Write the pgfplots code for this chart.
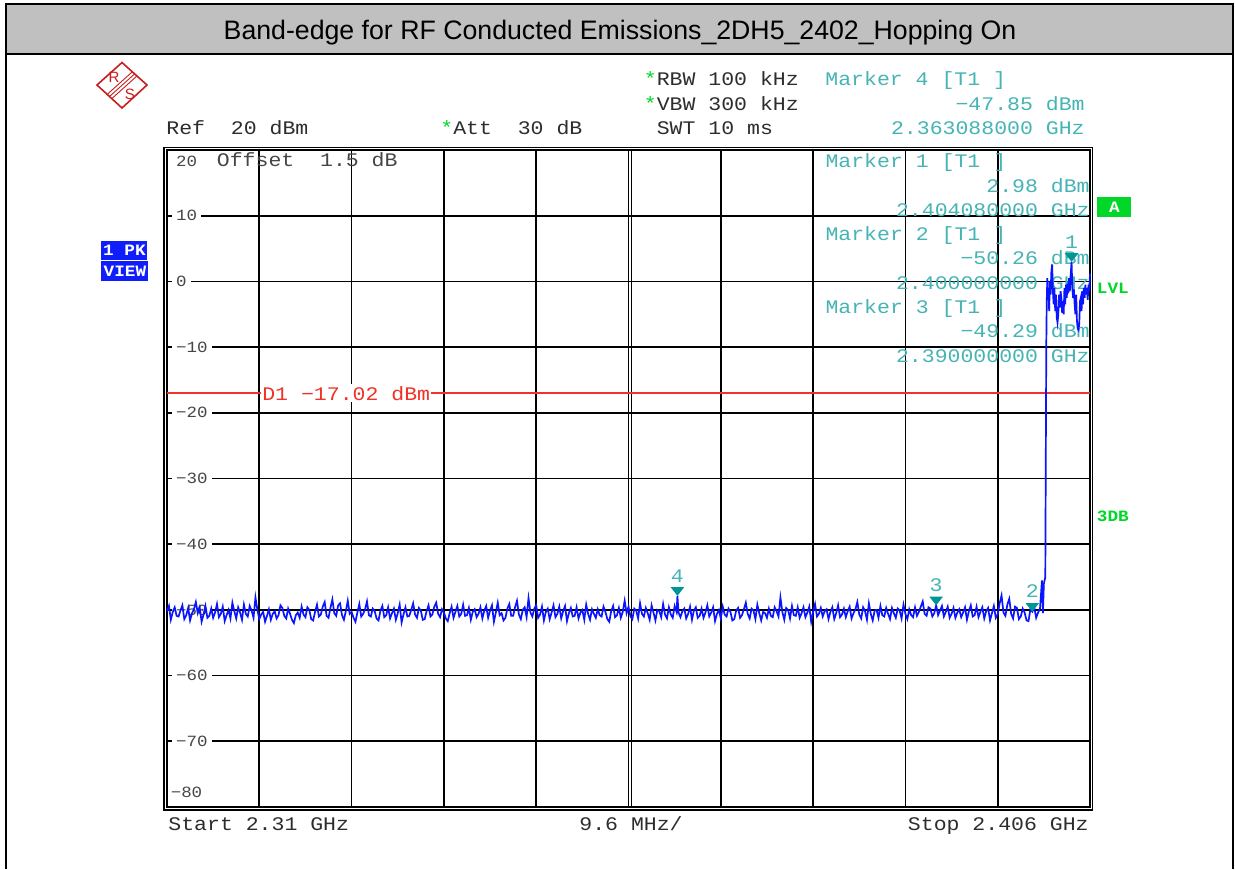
\documentclass[border=0pt]{standalone}
\usepackage{fontspec}
\usepackage{pgfplots}
\pgfplotsset{compat=1.18}
\setmainfont{Liberation Sans}
\newfontfamily\titlefont{Liberation Sans}
\newfontfamily\monof{Liberation Mono}[FakeStretch=1.12]
\definecolor{titlegray}{RGB}{192,192,192}
\definecolor{tealmark}{RGB}{0,150,150}
\definecolor{tealtext}{RGB}{70,180,180}
\definecolor{ticklab}{RGB}{70,70,70}
\definecolor{txtdark}{RGB}{45,45,45}
\definecolor{stargreen}{RGB}{0,215,40}
\definecolor{rsred}{RGB}{200,30,30}
\definecolor{dred}{RGB}{240,50,40}
\definecolor{viewblue}{RGB}{15,30,250}
\definecolor{traceblue}{RGB}{10,20,255}
\newcommand{\mfont}{\monof\fontsize{9.6}{11}\selectfont}
\newcommand{\sfont}{\monof\fontsize{7.8}{9}\selectfont}
\newcommand{\bfont}{\monof\bfseries\fontsize{7.9}{9}\selectfont}
\begin{document}
\begin{tikzpicture}
\begin{scope}[x=0.5pt,y=-0.5pt]
\useasboundingbox (0,0) rectangle (1235,869);
\fill[white] (0,0) rectangle (1235,869);
\draw[line width=1pt] (6,54) -- (6,869);
\draw[line width=0.8pt] (1233,54) -- (1233,869);
\draw[line width=1.25pt, fill=titlegray] (6,4) rectangle (1233,54);
\node[font=\titlefont\fontsize{13.35}{15}\selectfont, anchor=center] at (620,32.5) {Band-edge for RF Conducted Emissions\_2DH5\_2402\_Hopping On};
% R&S logo
\draw[rsred, line width=0.8pt] (97,85) -- (122,62.5) -- (147,85) -- (122,108) -- cycle;
\draw[rsred, line width=0.45pt] (107.4,94.2) -- (132.4,71.7);
\draw[rsred, line width=0.45pt] (109.5,96.5) -- (134.5,74);
\draw[rsred, line width=0.45pt] (111.6,98.8) -- (136.6,76.3);
\node[rsred, font=\fontsize{7.5}{8}\selectfont, anchor=center] at (114,77) {R};
\node[rsred, font=\fontsize{7.5}{8}\selectfont, anchor=center] at (130,94) {S};
% header texts
\node[txtdark, font=\mfont, anchor=base west, inner sep=0pt] at (166,134.5) {Ref~~20~dBm};
\node[font=\mfont, anchor=base west, inner sep=0pt] at (440,134.5) {\textcolor{stargreen}{*}\textcolor{txtdark}{Att~~30~dB}};
\node[font=\mfont, anchor=base west, inner sep=0pt] at (643.5,85.5) {\textcolor{stargreen}{*}\textcolor{txtdark}{RBW~100~kHz}};
\node[font=\mfont, anchor=base west, inner sep=0pt] at (643.5,110) {\textcolor{stargreen}{*}\textcolor{txtdark}{VBW~300~kHz}};
\node[txtdark, font=\mfont, anchor=base west, inner sep=0pt] at (656.4,134.5) {SWT~10~ms};
\node[tealtext, font=\mfont, anchor=base west, inner sep=0pt] at (825,85.5) {Marker~4~[T1~]};
\node[tealtext, font=\mfont, anchor=base east, inner sep=0pt] at (1085,110) {−47.85~dBm};
\node[tealtext, font=\mfont, anchor=base east, inner sep=0pt] at (1085,134.5) {2.363088000~GHz};
% side labels
\node[fill=viewblue, text=white, font=\bfont, anchor=north west, minimum width=23pt, minimum height=9.6pt, inner sep=0pt] at (101,240.5) {1~PK};
\node[fill=viewblue, text=white, font=\bfont, anchor=north west, minimum width=23.5pt, minimum height=9.6pt, inner sep=0pt] at (101,261) {VIEW};
\node[fill=stargreen, text=white, font=\bfont, anchor=north west, minimum width=17pt, minimum height=10pt, inner sep=0pt] at (1097,197) {A};
\node[stargreen, font=\bfont, anchor=base west, inner sep=0pt] at (1096.5,293) {LVL};
\node[stargreen, font=\bfont, anchor=base west, inner sep=0pt] at (1096.5,521.5) {3DB};
% bottom texts
\node[txtdark, font=\mfont, anchor=base west, inner sep=0pt] at (168,830) {Start~2.31~GHz};
\node[txtdark, font=\mfont, anchor=base, inner sep=0pt] at (631,830) {9.6~MHz/};
\node[txtdark, font=\mfont, anchor=base east, inner sep=0pt] at (1089,830) {Stop~2.406~GHz};
\end{scope}
\begin{axis}[
  at={(83.5pt,-75pt)}, anchor=north west,
  scale only axis, width=461.5pt, height=328.5pt,
  xmin=2310, xmax=2406, ymin=-80, ymax=20,
  xtick={2319.6,2329.2,2338.8,2348.4,2358,2367.6,2377.2,2386.8,2396.4},
  ytick={-70,-60,-50,-40,-30,-20,-10,0,10},
  xticklabels={}, yticklabels={}, major tick length=0pt,
  grid=major, grid style={black, line width=0.85pt},
  axis line style={black, line width=0.8pt},
  clip=false,
]
\draw[black, line width=0.85pt] (axis cs:2358.31,-80) -- (axis cs:2358.31,20);
% tick labels
\node[ticklab, font=\sfont, anchor=base west, inner sep=0pt] at (axis cs:2310.9,17.5) {20};
\node[ticklab, font=\mfont, anchor=base west, inner sep=0pt] at (axis cs:2315.15,17.5) {Offset~~1.5~dB};
\foreach \v/\t in {10/10,0/0,-10/−10,-20/−20,-30/−30,-40/−40,-50/−50,-60/−60,-70/−70}{
  \edef\temp{\noexpand\node[ticklab, font=\noexpand\sfont, anchor=west, fill=white, inner xsep=2pt, inner ysep=1pt] at (axis cs:2310.5,\v) {\t};}
  \temp
}
\node[ticklab, font=\sfont, anchor=base west, inner sep=0pt] at (axis cs:2310.35,-78.5) {−80};
% D1 line
\draw[dred, line width=0.75pt] (axis cs:2310,-17.02) -- (axis cs:2406,-17.02);
\node[dred, font=\mfont, fill=white, anchor=west, inner xsep=0.6pt, inner ysep=1pt] at (axis cs:2319.75,-17.02) {D1~−17.02~dBm};
% marker texts
\node[tealtext, font=\mfont, anchor=base west, inner sep=0pt] at (axis cs:2378.45,17.35) {Marker~1~[T1~]};
\node[tealtext, font=\mfont, anchor=base east, inner sep=0pt] at (axis cs:2406,13.6) {2.98~dBm};
\node[tealtext, font=\mfont, anchor=base east, inner sep=0pt] at (axis cs:2406,9.9) {2.404080000~GHz};
\node[tealtext, font=\mfont, anchor=base west, inner sep=0pt] at (axis cs:2378.45,6.2) {Marker~2~[T1~]};
\node[tealtext, font=\mfont, anchor=base east, inner sep=0pt] at (axis cs:2406,2.5) {−50.26~dBm};
\node[tealtext, font=\mfont, anchor=base east, inner sep=0pt] at (axis cs:2406,-1.2) {2.400000000~GHz};
\node[tealtext, font=\mfont, anchor=base west, inner sep=0pt] at (axis cs:2378.45,-4.9) {Marker~3~[T1~]};
\node[tealtext, font=\mfont, anchor=base east, inner sep=0pt] at (axis cs:2406,-8.6) {−49.29~dBm};
\node[tealtext, font=\mfont, anchor=base east, inner sep=0pt] at (axis cs:2406,-12.3) {2.390000000~GHz};
% trace
\addplot[traceblue, line width=0.85pt, mark=none] coordinates {
(2310.0,-50.2)(2310.2,-49.4)(2310.4,-51.5)(2310.6,-50.3)(2310.8,-49.6)(2311.0,-50.9)(2311.2,-51.0)(2311.4,-50.1)
(2311.6,-49.3)(2311.8,-51.4)(2312.0,-50.8)(2312.2,-49.7)(2312.4,-51.6)(2312.6,-50.5)(2312.8,-49.9)(2313.0,-48.8)
(2313.2,-50.5)(2313.4,-49.6)(2313.6,-51.8)(2313.8,-50.7)(2314.0,-49.4)(2314.2,-51.2)(2314.4,-50.9)(2314.6,-49.8)
(2314.8,-51.2)(2315.0,-50.4)(2315.2,-49.1)(2315.4,-51.1)(2315.6,-50.6)(2315.8,-49.5)(2316.0,-51.7)(2316.2,-50.8)
(2316.4,-50.0)(2316.6,-51.3)(2316.8,-48.9)(2317.0,-50.2)(2317.2,-51.3)(2317.4,-49.6)(2317.6,-50.4)(2317.8,-51.5)
(2318.0,-49.2)(2318.2,-50.6)(2318.4,-51.0)(2318.6,-49.4)(2318.8,-50.1)(2319.0,-51.2)(2319.2,-48.1)(2319.4,-50.0)
(2319.6,-51.4)(2319.8,-50.7)(2320.0,-50.3)(2320.2,-51.8)(2320.4,-50.9)(2320.6,-49.9)(2320.8,-51.5)(2321.0,-50.6)
(2321.2,-50.2)(2321.4,-51.3)(2321.6,-50.8)(2321.8,-49.3)(2322.0,-49.7)(2322.2,-50.9)(2322.4,-51.3)(2322.6,-49.8)
(2322.8,-50.6)(2323.0,-51.5)(2323.2,-52.0)(2323.4,-50.8)(2323.6,-50.4)(2323.8,-51.2)(2324.0,-49.5)(2324.2,-50.7)
(2324.4,-51.1)(2324.6,-49.6)(2324.8,-50.0)(2325.0,-51.4)(2325.2,-51.6)(2325.4,-50.3)(2325.6,-49.2)(2325.8,-51.0)
(2326.0,-50.7)(2326.2,-49.5)(2326.4,-48.8)(2326.6,-50.9)(2326.8,-51.2)(2327.0,-49.7)(2327.2,-48.4)(2327.4,-50.5)
(2327.6,-50.9)(2327.8,-49.3)(2328.0,-49.0)(2328.2,-50.8)(2328.4,-51.5)(2328.6,-50.2)(2328.8,-48.6)(2329.0,-50.6)
(2329.2,-50.3)(2329.4,-51.2)(2329.6,-51.8)(2329.8,-50.4)(2330.0,-49.1)(2330.2,-51.0)(2330.4,-50.6)(2330.6,-49.9)
(2330.8,-48.7)(2331.0,-50.8)(2331.2,-51.0)(2331.4,-49.8)(2331.6,-50.2)(2331.8,-51.3)(2332.0,-51.6)(2332.2,-50.1)
(2332.4,-49.4)(2332.6,-51.1)(2332.8,-50.8)(2333.0,-49.6)(2333.2,-51.3)(2333.4,-50.5)(2333.6,-49.8)(2333.8,-51.5)
(2334.0,-50.5)(2334.2,-49.2)(2334.4,-51.9)(2334.6,-50.7)(2334.8,-49.6)(2335.0,-51.0)(2335.2,-50.9)(2335.4,-50.0)
(2335.6,-49.0)(2335.8,-50.7)(2336.0,-51.2)(2336.2,-49.7)(2336.4,-50.1)(2336.6,-51.5)(2336.8,-51.4)(2337.0,-50.2)
(2337.2,-49.3)(2337.4,-51.0)(2337.6,-50.7)(2337.8,-49.5)(2338.0,-48.9)(2338.2,-50.6)(2338.4,-51.1)(2338.6,-49.9)
(2338.8,-50.4)(2339.0,-51.3)(2339.2,-51.7)(2339.4,-50.5)(2339.6,-49.5)(2339.8,-51.2)(2340.0,-50.3)(2340.2,-49.4)
(2340.4,-51.0)(2340.6,-50.6)(2340.8,-49.2)(2341.0,-50.9)(2341.2,-50.8)(2341.4,-49.7)(2341.6,-51.5)(2341.8,-50.3)
(2342.0,-49.9)(2342.2,-51.1)(2342.4,-50.6)(2342.6,-49.6)(2342.8,-51.3)(2343.0,-50.1)(2343.2,-49.4)(2343.4,-51.2)
(2343.6,-50.1)(2343.8,-49.3)(2344.0,-51.8)(2344.2,-50.4)(2344.4,-48.9)(2344.6,-50.8)(2344.8,-50.5)(2345.0,-51.6)
(2345.2,-51.2)(2345.4,-49.8)(2345.6,-49.1)(2345.8,-50.9)(2346.0,-50.9)(2346.2,-49.6)(2346.4,-48.6)(2346.6,-50.7)
(2346.8,-51.4)(2347.0,-50.0)(2347.2,-49.6)(2347.4,-51.1)(2347.6,-48.2)(2347.8,-50.4)(2348.0,-51.0)(2348.2,-49.8)
(2348.4,-49.3)(2348.6,-51.2)(2348.8,-50.7)(2349.0,-49.5)(2349.2,-51.6)(2349.4,-50.3)(2349.6,-49.8)(2349.8,-51.4)
(2350.0,-50.4)(2350.2,-49.3)(2350.4,-51.1)(2350.6,-50.6)(2350.8,-49.5)(2351.0,-51.3)(2351.2,-50.2)(2351.4,-49.4)
(2351.6,-51.7)(2351.8,-50.5)(2352.0,-49.7)(2352.2,-51.0)(2352.4,-50.9)(2352.6,-49.6)(2352.8,-51.3)(2353.0,-50.4)
(2353.2,-50.0)(2353.4,-51.5)(2353.6,-49.2)(2353.8,-50.6)(2354.0,-51.5)(2354.2,-49.9)(2354.4,-50.6)(2354.6,-51.2)
(2354.8,-49.9)(2355.0,-50.8)(2355.2,-51.0)(2355.4,-49.5)(2355.6,-50.3)(2355.8,-51.4)(2356.0,-51.8)(2356.2,-50.2)
(2356.4,-49.4)(2356.6,-51.1)(2356.8,-50.8)(2357.0,-49.7)(2357.2,-51.2)(2357.4,-50.3)(2357.6,-48.6)(2357.8,-50.5)
(2358.0,-49.5)(2358.2,-51.0)(2358.4,-51.4)(2358.6,-49.8)(2358.8,-50.1)(2359.0,-51.3)(2359.2,-49.0)(2359.4,-50.6)
(2359.6,-51.0)(2359.8,-49.7)(2360.0,-50.5)(2360.2,-51.5)(2360.4,-49.3)(2360.6,-50.4)(2360.8,-51.6)(2361.0,-50.0)
(2361.2,-50.2)(2361.4,-51.1)(2361.6,-49.1)(2361.8,-50.7)(2362.0,-51.3)(2362.2,-49.6)(2362.4,-50.7)(2362.6,-51.2)
(2362.8,-49.4)(2363.0,-50.3)(2363.088,-47.85)(2363.2,-50.4)(2363.4,-51.1)(2363.6,-50.2)(2363.8,-49.8)(2364.0,-51.3)
(2364.2,-50.6)(2364.4,-49.5)(2364.6,-51.5)(2364.8,-50.1)(2365.0,-49.6)(2365.2,-51.2)(2365.4,-50.9)(2365.6,-49.8)
(2365.8,-51.2)(2366.0,-50.4)(2366.2,-49.3)(2366.4,-51.0)(2366.6,-50.4)(2366.8,-49.6)(2367.0,-51.7)(2367.2,-50.6)
(2367.4,-50.0)(2367.6,-51.3)(2367.8,-49.5)(2368.0,-50.7)(2368.2,-51.0)(2368.4,-49.8)(2368.6,-50.3)(2368.8,-51.6)
(2369.0,-51.4)(2369.2,-50.1)(2369.4,-49.7)(2369.6,-51.2)(2369.8,-50.8)(2370.0,-49.9)(2370.2,-48.9)(2370.4,-50.6)
(2370.6,-51.3)(2370.8,-49.8)(2371.0,-50.1)(2371.2,-51.4)(2371.4,-49.2)(2371.6,-50.5)(2371.8,-51.6)(2372.0,-50.3)
(2372.2,-50.5)(2372.4,-51.2)(2372.6,-49.8)(2372.8,-50.9)(2373.0,-51.1)(2373.2,-49.6)(2373.4,-50.2)(2373.6,-51.0)
(2373.8,-48.1)(2374.0,-50.3)(2374.2,-51.5)(2374.4,-49.7)(2374.6,-50.0)(2374.8,-51.3)(2375.0,-49.4)(2375.2,-50.8)
(2375.4,-50.9)(2375.6,-49.6)(2375.8,-51.2)(2376.0,-50.5)(2376.2,-49.6)(2376.4,-51.1)(2376.6,-50.4)(2376.8,-49.5)
(2377.0,-51.8)(2377.2,-50.3)(2377.4,-49.1)(2377.6,-51.0)(2377.8,-50.6)(2378.0,-49.7)(2378.2,-51.0)(2378.4,-50.2)
(2378.6,-49.9)(2378.8,-51.4)(2379.0,-50.3)(2379.2,-49.6)(2379.4,-51.4)(2379.6,-50.5)(2379.8,-49.3)(2380.0,-51.1)
(2380.2,-50.7)(2380.4,-49.8)(2380.6,-51.1)(2380.8,-50.2)(2381.0,-49.5)(2381.2,-51.3)(2381.4,-50.5)(2381.6,-49.9)
(2381.8,-48.8)(2382.0,-50.7)(2382.2,-51.3)(2382.4,-49.6)(2382.6,-50.2)(2382.8,-51.5)(2383.0,-49.0)(2383.2,-50.6)
(2383.4,-51.6)(2383.6,-50.1)(2383.8,-50.0)(2384.0,-51.2)(2384.2,-49.4)(2384.4,-50.8)(2384.6,-51.0)(2384.8,-49.7)
(2385.0,-50.6)(2385.2,-51.4)(2385.4,-49.7)(2385.6,-50.5)(2385.8,-51.2)(2386.0,-49.8)(2386.2,-50.1)(2386.4,-51.3)
(2386.6,-49.2)(2386.8,-50.6)(2387.0,-51.4)(2387.2,-49.9)(2387.4,-50.8)(2387.6,-51.1)(2387.8,-49.6)(2388.0,-50.9)
(2388.2,-50.3)(2388.4,-49.5)(2388.6,-48.7)(2388.8,-50.6)(2389.0,-50.9)(2389.2,-49.6)(2389.4,-49.8)(2389.6,-51.0)
(2389.8,-50.5)(2390.0,-49.29)(2390.2,-50.8)(2390.4,-50.1)(2390.6,-49.4)(2390.8,-51.0)(2391.0,-50.3)(2391.2,-49.5)
(2391.4,-51.2)(2391.6,-50.6)(2391.8,-49.7)(2392.0,-51.2)(2392.2,-50.4)(2392.4,-49.9)(2392.6,-51.1)(2392.8,-50.4)
(2393.0,-49.6)(2393.2,-51.5)(2393.4,-50.2)(2393.6,-49.3)(2393.8,-51.0)(2394.0,-50.8)(2394.2,-49.5)(2394.4,-51.1)
(2394.6,-50.3)(2394.8,-49.6)(2395.0,-51.3)(2395.2,-50.2)(2395.4,-49.7)(2395.6,-51.6)(2395.8,-50.5)(2396.0,-49.4)
(2396.2,-51.2)(2396.4,-50.7)(2396.6,-49.0)(2396.8,-47.8)(2397.0,-50.4)(2397.2,-50.9)(2397.4,-49.2)(2397.6,-48.3)
(2397.8,-50.6)(2398.0,-51.3)(2398.2,-49.5)(2398.4,-49.7)(2398.6,-51.4)(2398.8,-51.0)(2399.0,-49.8)(2399.2,-50.4)
(2399.4,-51.6)(2399.6,-51.7)(2399.8,-49.9)(2400.0,-50.26)(2400.2,-49.6)(2400.4,-51.2)(2400.6,-50.4)(2400.8,-49.8)
(2401.0,-45.5)(2401.1,-50.5)(2401.2,-46.0)
(2401.35,-45.0)(2401.45,-10.0)(2401.50,-3.0)(2401.56,0.5)(2401.62,-2.5)(2401.68,-1.0)(2401.75,-4.5)(2401.82,0.0)
(2401.90,-2.0)(2401.98,1.5)(2402.06,2.6)(2402.14,-1.5)(2402.22,-3.5)(2402.30,-1.0)(2402.38,-4.5)(2402.46,-2.0)
(2402.54,-5.5)(2402.62,-6.3)(2402.70,-5.0)(2402.78,-2.0)(2402.86,-4.0)(2402.94,-1.5)(2403.02,-2.5)(2403.10,-4.8)
(2403.18,-3.0)(2403.26,-5.0)(2403.34,-1.0)(2403.42,-3.5)(2403.50,-0.5)(2403.58,-2.5)(2403.66,-0.3)(2403.74,-1.8)
(2403.82,0.5)(2403.90,-1.5)(2403.98,0.8)(2404.08,2.98)(2404.16,-1.0)(2404.24,-2.5)(2404.32,-1.2)(2404.40,-3.5)
(2404.48,-5.0)(2404.56,-2.0)(2404.64,-6.0)(2404.72,-7.2)(2404.80,-7.4)(2404.88,-6.5)(2404.96,-3.0)(2405.04,-2.5)
(2405.12,-4.5)(2405.20,-1.5)(2405.28,-3.5)(2405.36,-1.0)(2405.44,-2.5)(2405.52,-0.5)(2405.60,-2.0)(2405.68,-1.0)
(2405.76,-2.8)(2405.84,-0.5)(2405.92,-1.5)(2406.00,1.2)
};
% markers
\foreach \mx/\my/\ml in {2404.08/2.98/1,2400.0/-50.26/2,2390.0/-49.29/3,2363.088/-47.85/4}{
  \edef\temp{\noexpand\fill[tealmark] (axis cs:\mx,\my) -- ++(-3.4pt,4.3pt) -- ++(6.8pt,0pt) -- cycle;
  \noexpand\node[tealtext, font=\noexpand\mfont, anchor=base, inner sep=0pt, yshift=6.9pt] at (axis cs:\mx,\my) {\ml};}
  \temp
}
\end{axis}
\begin{scope}[x=0.5pt,y=-0.5pt]
\draw[black, line width=0.7pt] (164,147.3) rectangle (1092.6,810);
\end{scope}
\end{tikzpicture}
\end{document}
